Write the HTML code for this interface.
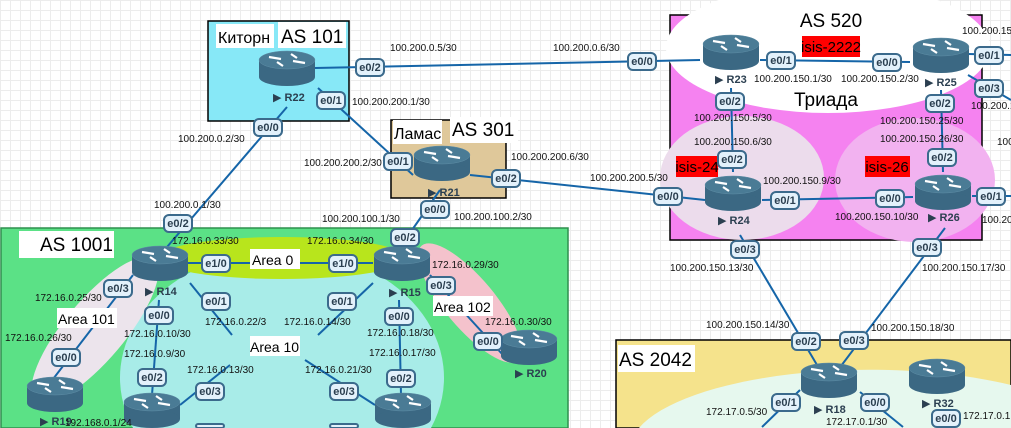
<!DOCTYPE html>
<html><head><meta charset="utf-8"><style>
html{margin:0;padding:0;width:1011px;height:428px;overflow:hidden;}
body{margin:0;padding:0;width:1011px;height:428px;overflow:hidden;position:relative;background-color:#fff;
background-image:linear-gradient(#ececec 1px,transparent 1px),linear-gradient(90deg,#ececec 1px,transparent 1px);background-size:10px 10px;}
svg{position:absolute;left:0;top:0;display:block;font-family:"Liberation Sans","DejaVu Sans",sans-serif;}
.ip{font-size:10px;fill:#111;}
.b rect{fill:#e3f1fb;stroke:#3b6a8c;stroke-width:2;}
.b text{font-size:11px;font-weight:bold;fill:#2b3f50;text-anchor:middle;}
.rl{font-size:11px;font-weight:bold;fill:#2b3f50;}
.t{font-size:19px;fill:#000;}
.ln{stroke:#1565a8;stroke-width:2;fill:none;}
</style></head><body>
<svg width="1011" height="428" viewBox="0 0 1011 428">
<defs>
<g id="rt">
<rect x="-28" y="-8" width="56" height="17" fill="#3b6883"/>
<ellipse cx="0" cy="9" rx="28" ry="9" fill="#3b6883"/>
<ellipse cx="0" cy="-8" rx="28" ry="9" fill="#4a7b95" stroke="#5f8ea6" stroke-width="0.5"/>
<g stroke="#fff" stroke-width="2.2">
<line x1="-18" y1="-11" x2="-6" y2="-9"/><line x1="18" y1="-5" x2="6" y2="-7"/>
<line x1="4" y1="-14" x2="10" y2="-10"/><line x1="-4" y1="-2" x2="-10" y2="-6"/>
</g>
</g>
</defs>
<rect x="208" y="21" width="141" height="100" fill="#87e8f7" stroke="#000" stroke-width="1.5"/>
<rect x="391" y="120" width="115" height="78" fill="#dfc89a" stroke="#000" stroke-width="1.5"/>
<rect x="670" y="15" width="312" height="225" fill="#f582f0" stroke="#000" stroke-width="1.5"/>
<ellipse cx="828" cy="48" rx="162" ry="65" fill="#fff"/>
<ellipse cx="742" cy="178" rx="82" ry="62" fill="#ecdcec"/>
<ellipse cx="915" cy="180" rx="80" ry="62" fill="#f2b2f0"/>
<rect x="1" y="228" width="567" height="200" fill="#5be186" stroke="#2f8f4f" stroke-width="1.5"/>
<path d="M133,428 A162,128 0 1 1 431,428 Z" fill="#a8ece8"/>
<ellipse cx="282" cy="258" rx="125" ry="21" fill="#b8e51c"/>
<ellipse cx="95" cy="330" rx="30" ry="92" transform="rotate(40 95 330)" fill="#ece4ec"/>
<ellipse cx="470" cy="303" rx="25" ry="75" transform="rotate(-40 470 303)" fill="#f4c2cc"/>
<rect x="616" y="340" width="395" height="88" fill="#f5e38c" stroke="#000" stroke-width="1.5"/>
<path d="M639,428 A240,80 0 0 1 1011,385 L1011,428 Z" fill="#e6f8ee"/>
<line class="ln" x1="315" y1="68" x2="700" y2="60"/>
<line class="ln" x1="318" y1="88" x2="413" y2="175"/>
<line class="ln" x1="287" y1="107" x2="167" y2="247"/>
<line class="ln" x1="470" y1="175" x2="705" y2="200"/>
<line class="ln" x1="440" y1="190" x2="398" y2="250"/>
<line class="ln" x1="760" y1="60" x2="910" y2="62"/>
<line class="ln" x1="731" y1="88" x2="733" y2="172"/>
<line class="ln" x1="941" y1="90" x2="943" y2="172"/>
<line class="ln" x1="762" y1="200" x2="913" y2="197"/>
<line class="ln" x1="740" y1="235" x2="820" y2="370"/>
<line class="ln" x1="945" y1="228" x2="838" y2="370"/>
<line class="ln" x1="968" y1="54" x2="1011" y2="55"/>
<line class="ln" x1="968" y1="75" x2="1011" y2="100"/>
<line class="ln" x1="972" y1="196" x2="1011" y2="196"/>
<line class="ln" x1="188" y1="263" x2="373" y2="263"/>
<line class="ln" x1="190" y1="283" x2="232" y2="335"/>
<line class="ln" x1="373" y1="283" x2="318" y2="335"/>
<line class="ln" x1="159" y1="300" x2="152" y2="395"/>
<line class="ln" x1="399" y1="300" x2="401" y2="395"/>
<line class="ln" x1="133" y1="275" x2="50" y2="383"/>
<line class="ln" x1="430" y1="275" x2="503" y2="355"/>
<line class="ln" x1="180" y1="405" x2="230" y2="365"/>
<line class="ln" x1="375" y1="405" x2="305" y2="360"/>
<line class="ln" x1="800" y1="390" x2="762" y2="427"/>
<line class="ln" x1="860" y1="392" x2="903" y2="427"/>
<use href="#rt" x="287" y="68"/><use href="#rt" x="442" y="163"/>
<use href="#rt" x="731" y="52"/><use href="#rt" x="941" y="55"/>
<use href="#rt" x="733" y="193"/><use href="#rt" x="943" y="192"/>
<use href="#rt" x="829" y="380"/><use href="#rt" x="937" y="376"/>
<use href="#rt" x="160" y="263"/><use href="#rt" x="402" y="263"/>
<use href="#rt" x="529" y="347"/><use href="#rt" x="55" y="394"/>
<use href="#rt" x="152" y="410"/><use href="#rt" x="403" y="410"/>
<g class="rl">
<text x="273" y="101">▶ R22</text><text x="428" y="196">▶ R21</text>
<text x="715" y="83">▶ R23</text><text x="925" y="86">▶ R25</text>
<text x="718" y="224">▶ R24</text><text x="928" y="221">▶ R26</text>
<text x="814" y="413">▶ R18</text><text x="922" y="407">▶ R32</text>
<text x="145" y="295">▶ R14</text><text x="389" y="296">▶ R15</text>
<text x="515" y="377">▶ R20</text><text x="40" y="425">▶ R19</text>
</g>
<rect x="216" y="24" width="58" height="24" fill="#fff"/><text x="218" y="43" font-size="16">Киторн</text>
<rect x="278" y="22" width="68" height="26" fill="#fff"/><text class="t" x="281" y="43">AS 101</text>
<rect x="393" y="120" width="49" height="24" fill="#fff"/><text x="394" y="139" font-size="16">Ламас</text>
<rect x="450" y="117" width="68" height="26" fill="#fff"/><text class="t" x="452" y="136">AS 301</text>
<text class="t" x="831" y="27" text-anchor="middle">AS 520</text>
<text class="t" x="826" y="106" text-anchor="middle">Триада</text>
<rect x="802" y="36" width="58" height="21" fill="#f00"/><text x="831" y="52" font-size="15" text-anchor="middle">isis-2222</text>
<rect x="676" y="156" width="42" height="21" fill="#f00"/><text x="697" y="172" font-size="15" text-anchor="middle">isis-24</text>
<rect x="865" y="156" width="45" height="21" fill="#f00"/><text x="887" y="172" font-size="15" text-anchor="middle">isis-26</text>
<rect x="19" y="231" width="95" height="27" fill="#fff"/><text class="t" x="40" y="251">AS 1001</text>
<rect x="618" y="345" width="77" height="27" fill="#fff"/><text class="t" x="619" y="366">AS 2042</text>
<g font-size="14">
<rect x="250" y="249" width="50" height="20" fill="#fff"/><text x="252" y="265">Area 0</text>
<rect x="57" y="308" width="60" height="20" fill="#fff"/><text x="58" y="324">Area 101</text>
<rect x="250" y="336" width="50" height="20" fill="#fff"/><text x="250" y="352">Area 10</text>
<rect x="433" y="296" width="60" height="20" fill="#fff"/><text x="434" y="312">Area 102</text>
</g>
<g class="ip">
<text x="390" y="51">100.200.0.5/30</text><text x="553" y="51">100.200.0.6/30</text>
<text x="352" y="105">100.200.200.1/30</text><text x="178" y="142">100.200.0.2/30</text>
<text x="304" y="166">100.200.200.2/30</text><text x="511" y="160">100.200.200.6/30</text>
<text x="590" y="181">100.200.200.5/30</text><text x="154" y="208">100.200.0.1/30</text>
<text x="322" y="222">100.200.100.1/30</text><text x="454" y="220">100.200.100.2/30</text>
<text x="754" y="82">100.200.150.1/30</text><text x="841" y="82">100.200.150.2/30</text>
<text x="694" y="121">100.200.150.5/30</text><text x="694" y="145">100.200.150.6/30</text>
<text x="763" y="184">100.200.150.9/30</text><text x="835" y="220">100.200.150.10/30</text>
<text x="880" y="124">100.200.150.25/30</text><text x="880" y="142">100.200.150.26/30</text>
<text x="670" y="271">100.200.150.13/30</text><text x="922" y="271">100.200.150.17/30</text>
<text x="706" y="328">100.200.150.14/30</text><text x="871" y="331">100.200.150.18/30</text>
<text x="962" y="34">100.200.15</text><text x="971" y="109">100.200.1</text>
<text x="997" y="145">100</text><text x="982" y="223">100.20</text>
<text x="706" y="415">172.17.0.5/30</text><text x="826" y="425">172.17.0.1/30</text><text x="963" y="419">172.17.0.1</text>
<text x="172" y="244">172.16.0.33/30</text><text x="307" y="244">172.16.0.34/30</text>
<text x="432" y="268">172.16.0.29/30</text><text x="35" y="301">172.16.0.25/30</text>
<text x="5" y="341">172.16.0.26/30</text><text x="205" y="325">172.16.0.22/3</text>
<text x="284" y="325">172.16.0.14/30</text><text x="124" y="337">172.16.0.10/30</text>
<text x="124" y="357">172.16.0.9/30</text><text x="187" y="373">172.16.0.13/30</text>
<text x="305" y="373">172.16.0.21/30</text><text x="367" y="336">172.16.0.18/30</text>
<text x="369" y="356">172.16.0.17/30</text><text x="485" y="325">172.16.0.30/30</text>
<text x="65" y="426">192.168.0.1/24</text>
</g>
<g class="b">
<g transform="translate(370,67)"><rect x="-14" y="-8" width="28" height="17" rx="5"/><text y="4">e0/2</text></g>
<g transform="translate(331,100)"><rect x="-14" y="-8" width="28" height="17" rx="5"/><text y="4">e0/1</text></g>
<g transform="translate(268,127)"><rect x="-14" y="-8" width="28" height="17" rx="5"/><text y="4">e0/0</text></g>
<g transform="translate(398,161)"><rect x="-14" y="-8" width="28" height="17" rx="5"/><text y="4">e0/1</text></g>
<g transform="translate(506,178)"><rect x="-14" y="-8" width="28" height="17" rx="5"/><text y="4">e0/2</text></g>
<g transform="translate(435,209)"><rect x="-14" y="-8" width="28" height="17" rx="5"/><text y="4">e0/0</text></g>
<g transform="translate(178,223)"><rect x="-14" y="-8" width="28" height="17" rx="5"/><text y="4">e0/2</text></g>
<g transform="translate(405,237)"><rect x="-14" y="-8" width="28" height="17" rx="5"/><text y="4">e0/2</text></g>
<g transform="translate(642,61)"><rect x="-14" y="-8" width="28" height="17" rx="5"/><text y="4">e0/0</text></g>
<g transform="translate(781,60)"><rect x="-14" y="-8" width="28" height="17" rx="5"/><text y="4">e0/1</text></g>
<g transform="translate(887,62)"><rect x="-14" y="-8" width="28" height="17" rx="5"/><text y="4">e0/0</text></g>
<g transform="translate(989,55)"><rect x="-14" y="-8" width="28" height="17" rx="5"/><text y="4">e0/1</text></g>
<g transform="translate(989,88)"><rect x="-14" y="-8" width="28" height="17" rx="5"/><text y="4">e0/3</text></g>
<g transform="translate(730,101)"><rect x="-14" y="-8" width="28" height="17" rx="5"/><text y="4">e0/2</text></g>
<g transform="translate(940,103)"><rect x="-14" y="-8" width="28" height="17" rx="5"/><text y="4">e0/2</text></g>
<g transform="translate(732,159)"><rect x="-14" y="-8" width="28" height="17" rx="5"/><text y="4">e0/2</text></g>
<g transform="translate(942,157)"><rect x="-14" y="-8" width="28" height="17" rx="5"/><text y="4">e0/2</text></g>
<g transform="translate(668,196)"><rect x="-14" y="-8" width="28" height="17" rx="5"/><text y="4">e0/0</text></g>
<g transform="translate(785,200)"><rect x="-14" y="-8" width="28" height="17" rx="5"/><text y="4">e0/1</text></g>
<g transform="translate(890,198)"><rect x="-14" y="-8" width="28" height="17" rx="5"/><text y="4">e0/0</text></g>
<g transform="translate(991,196)"><rect x="-14" y="-8" width="28" height="17" rx="5"/><text y="4">e0/1</text></g>
<g transform="translate(745,249)"><rect x="-14" y="-8" width="28" height="17" rx="5"/><text y="4">e0/3</text></g>
<g transform="translate(927,247)"><rect x="-14" y="-8" width="28" height="17" rx="5"/><text y="4">e0/3</text></g>
<g transform="translate(806,341)"><rect x="-14" y="-8" width="28" height="17" rx="5"/><text y="4">e0/2</text></g>
<g transform="translate(854,340)"><rect x="-14" y="-8" width="28" height="17" rx="5"/><text y="4">e0/3</text></g>
<g transform="translate(786,402)"><rect x="-14" y="-8" width="28" height="17" rx="5"/><text y="4">e0/1</text></g>
<g transform="translate(875,402)"><rect x="-14" y="-8" width="28" height="17" rx="5"/><text y="4">e0/0</text></g>
<g transform="translate(946,418)"><rect x="-14" y="-8" width="28" height="17" rx="5"/><text y="4">e0/0</text></g>
<g transform="translate(216,263)"><rect x="-14" y="-8" width="28" height="17" rx="5"/><text y="4">e1/0</text></g>
<g transform="translate(343,263)"><rect x="-14" y="-8" width="28" height="17" rx="5"/><text y="4">e1/0</text></g>
<g transform="translate(118,288)"><rect x="-14" y="-8" width="28" height="17" rx="5"/><text y="4">e0/3</text></g>
<g transform="translate(216,301)"><rect x="-14" y="-8" width="28" height="17" rx="5"/><text y="4">e0/1</text></g>
<g transform="translate(342,301)"><rect x="-14" y="-8" width="28" height="17" rx="5"/><text y="4">e0/1</text></g>
<g transform="translate(441,285)"><rect x="-14" y="-8" width="28" height="17" rx="5"/><text y="4">e0/3</text></g>
<g transform="translate(159,315)"><rect x="-14" y="-8" width="28" height="17" rx="5"/><text y="4">e0/0</text></g>
<g transform="translate(399,316)"><rect x="-14" y="-8" width="28" height="17" rx="5"/><text y="4">e0/0</text></g>
<g transform="translate(66,357)"><rect x="-14" y="-8" width="28" height="17" rx="5"/><text y="4">e0/0</text></g>
<g transform="translate(488,341)"><rect x="-14" y="-8" width="28" height="17" rx="5"/><text y="4">e0/0</text></g>
<g transform="translate(152,377)"><rect x="-14" y="-8" width="28" height="17" rx="5"/><text y="4">e0/2</text></g>
<g transform="translate(401,378)"><rect x="-14" y="-8" width="28" height="17" rx="5"/><text y="4">e0/2</text></g>
<g transform="translate(210,391)"><rect x="-14" y="-8" width="28" height="17" rx="5"/><text y="4">e0/3</text></g>
<g transform="translate(344,391)"><rect x="-14" y="-8" width="28" height="17" rx="5"/><text y="4">e0/3</text></g>
<rect x="196" y="424" width="28" height="4" rx="2"/>
<rect x="330" y="424" width="28" height="4" rx="2"/>
</g>
</svg>
</body></html>
